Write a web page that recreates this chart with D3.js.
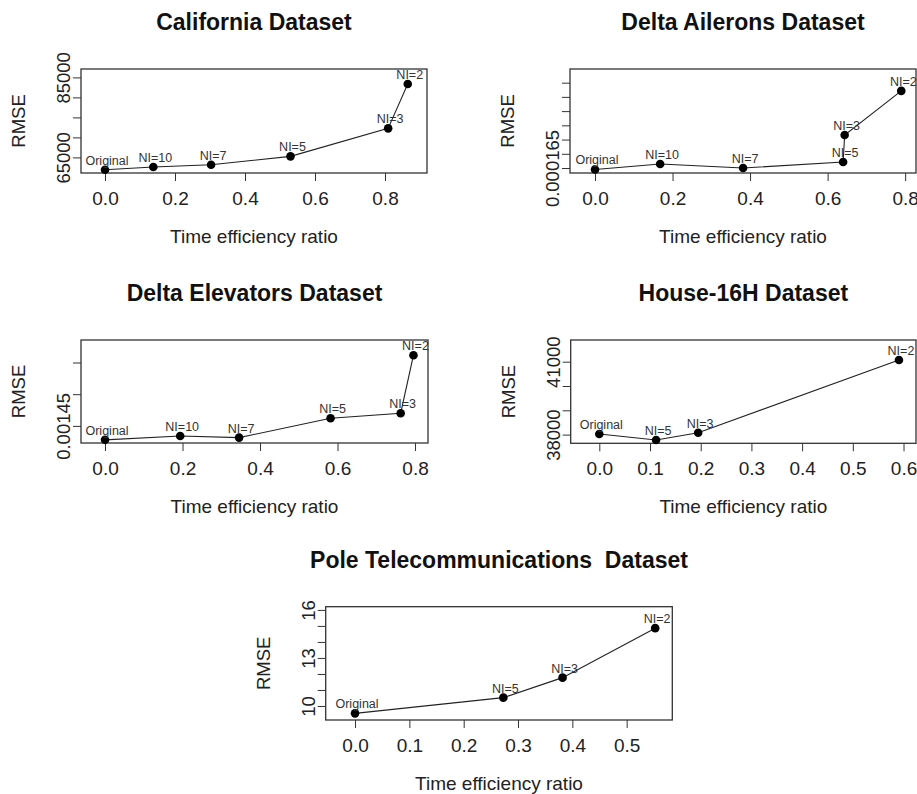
<!DOCTYPE html>
<html>
<head>
<meta charset="utf-8">
<script src="https://cdn.jsdelivr.net/npm/d3@7"></script>
<style>
  body { margin: 0; background: #fff; }
  svg { display: block; font-family: "Liberation Sans", Arial, sans-serif; }
</style>
</head>
<body>
<svg id="chart" width="917" height="794"></svg>
<script>
// titres des panneaux
var titles = ["California Dataset", "Delta Ailerons Dataset", "Delta Elevators Dataset",
              "House-16H Dataset", "Pole Telecommunications  Dataset"];

// California
var calLabels = ["Original", "NI=10", "NI=7", "NI=5", "NI=3", "NI=2"];
var calRatio = [0, 0.138, 0.303, 0.530, 0.809, 0.865];
var calRmse = [61925, 62600, 63180, 65260, 72260, 83350];
var calYTicks = [65000, 70000, 75000, 80000, 85000];
var calYShown = [65000, 85000];

// Delta Ailerons
var ailLabels = ["Original", "NI=10", "NI=7", "NI=5", "NI=3", "NI=2"];
var ailRatio = [0, 0.168, 0.382, 0.640, 0.644, 0.790];
var ailRmse = [0.0001649, 0.00016528, 0.000165, 0.00016542, 0.00016732, 0.00017042];
var ailYTicks = [0.000165, 0.000166, 0.000167, 0.000168, 0.000169, 0.00017, 0.000171];
var ailYShown = [0.000165];

// Delta Elevators
var eleLabels = ["Original", "NI=10", "NI=7", "NI=5", "NI=3", "NI=2"];
var eleRatio = [0, 0.194, 0.346, 0.582, 0.763, 0.796];
var eleRmse = [0.0014456, 0.0014468, 0.0014463, 0.0014524, 0.001454, 0.0014723];
var eleYTicks = [0.00145, 0.00146, 0.00147];
var eleYShown = [0.00145];

// House-16H
var houLabels = ["Original", "NI=5", "NI=3", "NI=2"];
var houRatio = [0, 0.112, 0.195, 0.591];
var houRmse = [38025, 37778, 38078, 41070];
var houYTicks = [38000, 39000, 40000, 41000];
var houYShown = [38000, 41000];

// Pole Telecommunications
var polLabels = ["Original", "NI=5", "NI=3", "NI=2"];
var polRatio = [0, 0.273, 0.382, 0.5525];
var polRmse = [9.54, 10.52, 11.77, 14.86];
var polYTicks = [10, 11, 12, 13, 14, 15, 16];
var polYShown = [10, 13, 16];

var xTicks8 = [0, 0.2, 0.4, 0.6, 0.8];
var xTicks6 = [0, 0.1, 0.2, 0.3, 0.4, 0.5, 0.6];
var xTicks5 = [0, 0.1, 0.2, 0.3, 0.4, 0.5];

var svg = d3.select("#chart");

/* un panneau = une boite, des axes, une ligne avec points */
function drawPanel(p) {
    var x = d3.scaleLinear().domain(p.xDomain).range([p.left, p.right]);
    var y = d3.scaleLinear().domain(p.yDomain).range([p.bottom, p.top]);
    var g = svg.append("g");
    var cx = (p.left + p.right) / 2;

    g.append("text")
        .attr("x", cx).attr("y", p.top - 39)
        .attr("text-anchor", "middle")
        .attr("font-size", 23).attr("font-weight", "bold")
        .attr("fill", "#111")
        .style("white-space", "pre")
        .text(p.title);

    // axe x
    var ax = g.append("g")
        .attr("transform", "translate(0," + p.bottom + ")")
        .call(d3.axisBottom(x).tickValues(p.xTicks).tickSize(8).tickFormat(d3.format(".1f")));
    ax.select(".domain").remove();
    ax.selectAll("line").attr("stroke", "#333");
    ax.selectAll("text")
        .attr("y", 32).attr("dy", 0)
        .attr("font-size", 19).attr("font-family", "Liberation Sans, Arial, sans-serif")
        .attr("fill", "#222");

    // axe y
    var ay = g.append("g")
        .attr("transform", "translate(" + p.left + ",0)")
        .call(d3.axisLeft(y).tickValues(p.yTicks).tickSize(8)
            .tickFormat(function (d) {
                return p.yShown.some(function (v) { return Math.abs(v - d) < 1e-12; }) ? p.yFmt(d) : "";
            }));
    ay.select(".domain").remove();
    ay.selectAll("line").attr("stroke", "#333");
    ay.selectAll("text")
        .attr("transform", "rotate(-90)")
        .attr("x", 0).attr("y", -11).attr("dy", 0)
        .attr("text-anchor", "middle")
        .attr("font-size", 18.5).attr("font-family", "Liberation Sans, Arial, sans-serif")
        .attr("fill", "#222");

    g.append("text")
        .attr("x", cx).attr("y", p.bottom + 70)
        .attr("text-anchor", "middle")
        .attr("font-size", 19).attr("fill", "#222")
        .text("Time efficiency ratio");

    g.append("text")
        .attr("transform", "translate(" + (p.left - 56) + "," + ((p.top + p.bottom) / 2) + ") rotate(-90)")
        .attr("text-anchor", "middle")
        .attr("font-size", 18.5).attr("fill", "#222")
        .text("RMSE");

    // boite
    g.append("rect")
        .attr("x", p.left).attr("y", p.top)
        .attr("width", p.right - p.left).attr("height", p.bottom - p.top)
        .attr("fill", "none").attr("stroke", "#333").attr("stroke-width", 1.3);

    var pts = p.ratio.map(function (r, i) { return { r: r, v: p.rmse[i], lab: p.labels[i] }; });

    var line = d3.line()
        .x(function (d) { return x(d.r); })
        .y(function (d) { return y(d.v); });

    g.append("path")
        .datum(pts)
        .attr("fill", "none")
        .attr("stroke", "#222")
        .attr("stroke-width", 1.1)
        .attr("d", line);

    g.selectAll("circle.pt").data(pts).enter()
        .append("circle")
        .attr("class", "pt")
        .attr("cx", function (d) { return x(d.r); })
        .attr("cy", function (d) { return y(d.v); })
        .attr("r", 4.3)
        .attr("fill", "#000");

    g.selectAll("text.lab").data(pts).enter()
        .append("text")
        .attr("class", "lab")
        .attr("x", function (d) { return x(d.r) + 2; })
        .attr("y", function (d) { return y(d.v) - 5; })
        .attr("text-anchor", "middle")
        .attr("font-size", 12.5)
        .attr("fill", "#333")
        .text(function (d) { return d.lab; });
}

var intFmt = d3.format("d");

drawPanel({ title: titles[0], labels: calLabels, ratio: calRatio, rmse: calRmse,
    yTicks: calYTicks, yShown: calYShown, yFmt: intFmt, xTicks: xTicks8,
    xDomain: [-0.0686, 0.92], yDomain: [61100, 87100],
    left: 81, right: 427, top: 69, bottom: 173 });

drawPanel({ title: titles[1], labels: ailLabels, ratio: ailRatio, rmse: ailRmse,
    yTicks: ailYTicks, yShown: ailYShown, yFmt: d3.format(".6f"), xTicks: xTicks8,
    xDomain: [-0.0645, 0.828], yDomain: [0.00016465, 0.00017196],
    left: 570, right: 916, top: 69, bottom: 173 });

drawPanel({ title: titles[2], labels: eleLabels, ratio: eleRatio, rmse: eleRmse,
    yTicks: eleYTicks, yShown: eleYShown, yFmt: d3.format(".5f"), xTicks: xTicks8,
    xDomain: [-0.062, 0.8335], yDomain: [0.0014446, 0.0014771],
    left: 81, right: 428, top: 340, bottom: 443 });

drawPanel({ title: titles[3], labels: houLabels, ratio: houRatio, rmse: houRmse,
    yTicks: houYTicks, yShown: houYShown, yFmt: intFmt, xTicks: xTicks6,
    xDomain: [-0.0564, 0.6246], yDomain: [37642, 41893],
    left: 570.7, right: 916, top: 340, bottom: 443.3 });

drawPanel({ title: titles[4], labels: polLabels, ratio: polRatio, rmse: polRmse,
    yTicks: polYTicks, yShown: polYShown, yFmt: intFmt, xTicks: xTicks5,
    xDomain: [-0.054, 0.584], yDomain: [9.125, 16.2],
    left: 325.7, right: 672.3, top: 606.7, bottom: 720 });
</script>
</body>
</html>
